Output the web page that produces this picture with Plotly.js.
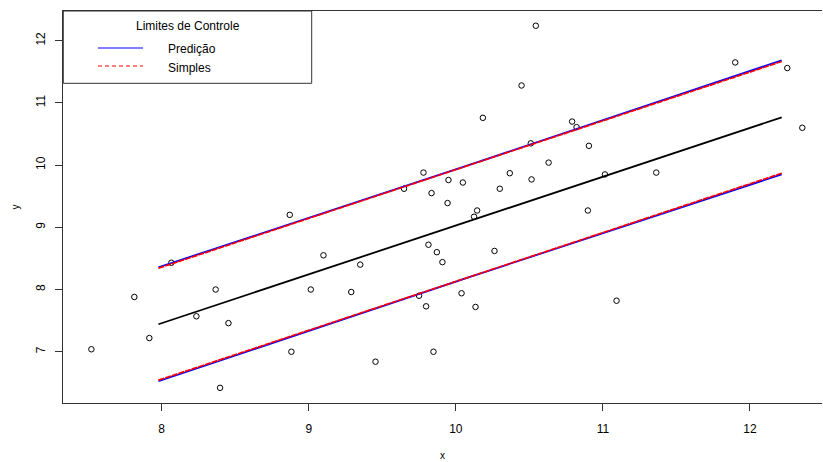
<!DOCTYPE html>
<html><head><meta charset="utf-8">
<script src="https://cdn.plot.ly/plotly-3.0.1.min.js"></script>
<style>html,body{margin:0;padding:0;background:#fff;overflow:hidden}</style>
</head><body><div id="chart" style="width:823px;height:462px"></div>
<script>
// Observed data
const xObs = [7.522, 7.814, 7.916, 8.066, 8.236, 8.367, 8.454, 8.397, 8.871, 8.882,
              9.014, 9.100, 9.289, 9.350, 9.454, 9.648, 9.780, 9.750, 9.798, 9.814,
              9.835, 9.871, 9.909, 9.848, 9.950, 9.944, 10.039, 10.048, 10.134, 10.124,
              10.145, 10.184, 10.263, 10.299, 10.367, 10.447, 10.510, 10.515, 10.544, 10.631,
              10.791, 10.821, 10.905, 10.898, 11.014, 11.093, 11.363, 11.900, 12.254, 12.356];
const yObs = [7.04, 7.88, 7.22, 8.43, 7.57, 8.00, 7.46, 6.42, 9.20, 7.00,
              8.00, 8.55, 7.96, 8.40, 6.84, 9.62, 9.88, 7.90, 7.73, 8.72,
              9.55, 8.60, 8.44, 7.00, 9.76, 9.39, 7.94, 9.72, 7.72, 9.17,
              9.27, 10.76, 8.62, 9.62, 9.87, 11.28, 10.35, 9.77, 12.24, 10.04,
              10.70, 10.61, 10.31, 9.27, 9.85, 7.82, 9.88, 11.65, 11.56, 10.60];

// Fitted line and control limits
const lineX     = [7.978, 10.097, 12.216];
const fitY      = [7.442, 9.105, 10.767];
const predUpper = [8.358, 10.008, 11.684];
const predLower = [6.526, 8.203, 9.850];
const simpUpper = [8.342, 10.002, 11.665];
const simpLower = [6.543, 8.209, 9.869];

const xTicks = [8, 9, 10, 11, 12];
const yTicks = [7, 8, 9, 10, 11, 12];

const legendTitle = 'Limites de Controle';
const legendNames = ['Predição', 'Simples'];

const FONT = 'Liberation Sans, Arial, Helvetica, sans-serif';

const traces = [
  {x: xObs, y: yObs, type: 'scatter', mode: 'markers', showlegend: false,
   marker: {symbol: 'circle-open', size: 5.5, color: '#000', line: {width: 1, color: '#000'}}},
  {x: lineX, y: fitY, type: 'scatter', mode: 'lines', showlegend: false,
   line: {color: '#000', width: 1.8}},
  {x: lineX, y: predUpper, type: 'scatter', mode: 'lines', showlegend: false,
   line: {color: '#0000ff', width: 1.7}},
  {x: lineX, y: predLower, type: 'scatter', mode: 'lines', showlegend: false,
   line: {color: '#0000ff', width: 1.7}},
  {x: lineX, y: simpUpper, type: 'scatter', mode: 'lines', showlegend: false,
   line: {color: '#ff0000', width: 1.7, dash: '6px,1px'}},
  {x: lineX, y: simpLower, type: 'scatter', mode: 'lines', showlegend: false,
   line: {color: '#ff0000', width: 1.7, dash: '6px,1px'}}
];

const PW = 759, PH = 392;
function px(v){ return (v - 63) / PW; }
function py(v){ return (403 - v) / PH; }

const layout = {
  width: 823, height: 462,
  margin: {l: 63, r: 1, t: 11, b: 59, pad: 0},
  paper_bgcolor: '#fff', plot_bgcolor: '#fff',
  font: {family: FONT, color: '#000', size: 12},
  showlegend: false,
  xaxis: {
    range: [7.329, 12.49], tickvals: xTicks, ticktext: xTicks.map(String),
    showgrid: false, zeroline: false, showline: true, linecolor: '#333', linewidth: 1,
    mirror: true, ticks: 'outside', ticklen: 7, tickcolor: '#333', tickwidth: 1,
    tickfont: {family: FONT, size: 12, color: '#000'}, ticklabelstandoff: 8,
    title: {text: 'x', font: {family: FONT, size: 10, color: '#000'}, standoff: 16}
  },
  yaxis: {
    range: [6.176, 12.477], tickvals: yTicks, ticktext: yTicks.map(String),
    showgrid: false, zeroline: false, showline: true, linecolor: '#333', linewidth: 1,
    ticks: 'outside', ticklen: 7, tickcolor: '#333', tickwidth: 1, tickangle: -90,
    tickfont: {family: FONT, size: 12, color: '#000'}, ticklabelstandoff: 5,
    title: {text: 'y', font: {family: FONT, size: 10, color: '#000'}, standoff: 12}
  },
  shapes: [
    {type: 'rect', xref: 'paper', yref: 'paper', x0: px(63.3), x1: px(311.7), y0: py(83.3), y1: py(11),
     fillcolor: '#fff', line: {color: '#333', width: 1}, layer: 'above'},
    {type: 'line', xref: 'paper', yref: 'paper', x0: px(98), x1: px(143), y0: py(48), y1: py(48),
     line: {color: '#0000ff', width: 1.2}, layer: 'above'},
    {type: 'line', xref: 'paper', yref: 'paper', x0: px(98), x1: px(143), y0: py(66), y1: py(66),
     line: {color: '#ff0000', width: 1.2, dash: '4px,3px'}, layer: 'above'}
  ],
  annotations: [
    {xref: 'paper', yref: 'paper', x: px(188), y: py(26), text: legendTitle, showarrow: false,
     xanchor: 'center', yanchor: 'middle', font: {family: FONT, size: 12, color: '#000'}},
    {xref: 'paper', yref: 'paper', x: px(165.5), y: py(49), text: legendNames[0], showarrow: false,
     xanchor: 'left', yanchor: 'middle', font: {family: FONT, size: 12, color: '#000'}},
    {xref: 'paper', yref: 'paper', x: px(165.5), y: py(68), text: legendNames[1], showarrow: false,
     xanchor: 'left', yanchor: 'middle', font: {family: FONT, size: 12, color: '#000'}}
  ]
};

Plotly.newPlot('chart', traces, layout, {displayModeBar: false, staticPlot: true});
</script>
</body></html>
